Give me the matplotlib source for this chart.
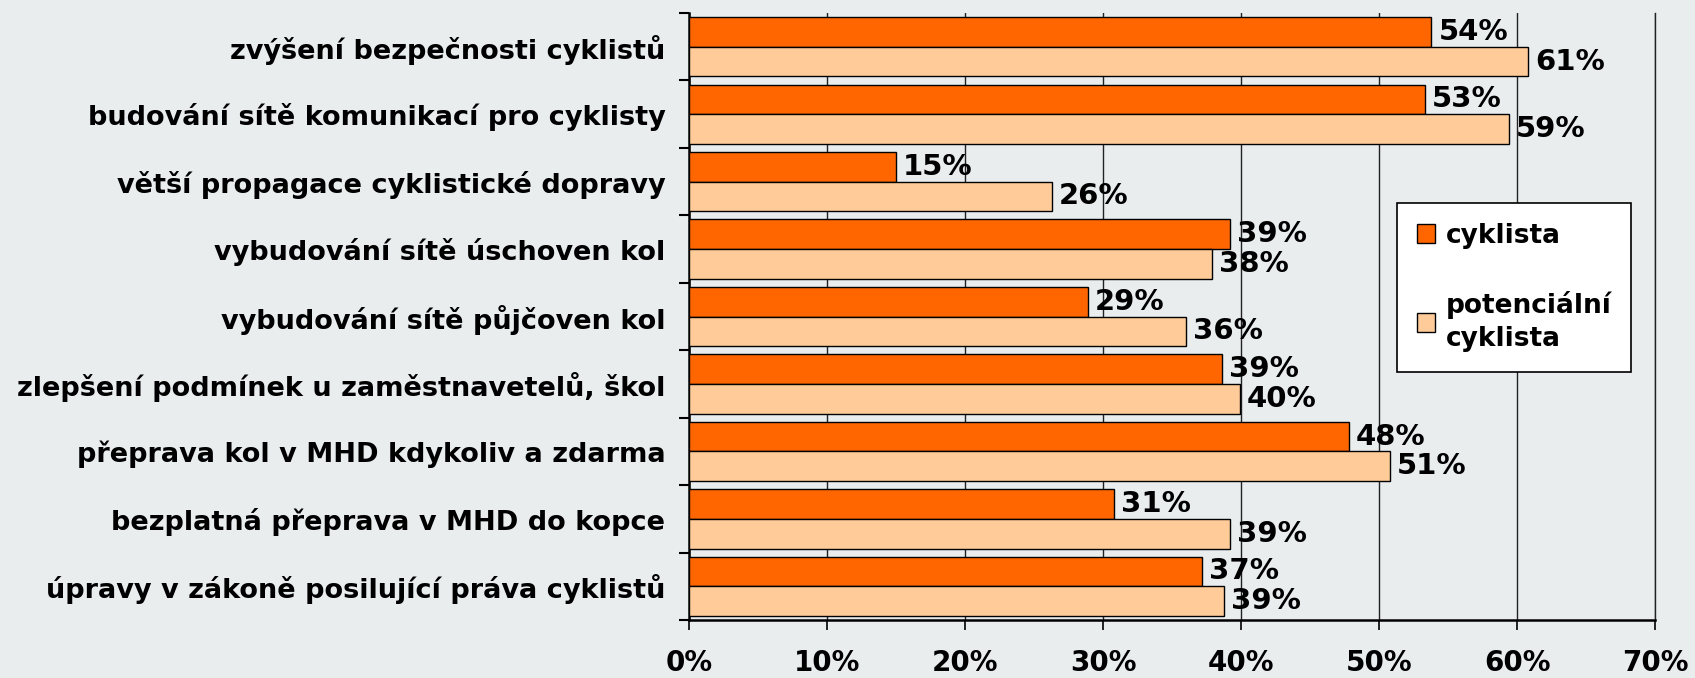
import numpy as np
import matplotlib.pyplot as plt
from matplotlib.ticker import FuncFormatter, FixedLocator

categories = [
    "zvýšení bezpečnosti cyklistů",
    "budování sítě komunikací pro cyklisty",
    "větší propagace cyklistické dopravy",
    "vybudování sítě úschoven kol",
    "vybudování sítě půjčoven kol",
    "zlepšení podmínek u zaměstnavetelů, škol",
    "přeprava kol v MHD kdykoliv a zdarma",
    "bezplatná přeprava v MHD do kopce",
    "úpravy v zákoně posilující práva cyklistů",
]
cyklista = [53.8, 53.3, 15.0, 39.2, 28.9, 38.6, 47.8, 30.8, 37.2]
potencialni = [60.8, 59.4, 26.3, 37.9, 36.0, 39.9, 50.8, 39.2, 38.8]
series_names = ["cyklista", "potenciální\ncyklista"]

bg = "#E9EDEE"
dark = "#FF6600"
light = "#FFCC99"

plt.rcParams["font.family"] = ["DejaVu Sans"]
plt.rcParams["font.weight"] = "bold"

fig = plt.figure(figsize=(16.95, 6.78), dpi=100, facecolor=bg)
ax = fig.add_axes([0.4065, 0.0855, 0.9764 - 0.4065, 0.9808 - 0.0855])
ax.set_facecolor(bg)

n = len(categories)
y = np.arange(n)
h = 0.44
b1 = ax.barh(y - h / 2, cyklista, height=h, color=dark, edgecolor="black",
             linewidth=1, label=series_names[0], zorder=3)
b2 = ax.barh(y + h / 2, potencialni, height=h, color=light, edgecolor="black",
             linewidth=1, label=series_names[1], zorder=3)

# value labels to the right of every bar
for bars, vals in ((b1, cyklista), (b2, potencialni)):
    for rect, v in zip(bars, vals):
        ax.annotate(f"{round(v)}%", (v, rect.get_y() + rect.get_height() / 2),
                    xytext=(5, 0), textcoords="offset points",
                    ha="left", va="center", fontsize=21, fontweight="bold",
                    zorder=4)

ax.set_xlim(0, 70)
ax.set_ylim(n - 0.5, -0.5)
ax.set_xticks(np.arange(0, 71, 10))
ax.xaxis.set_major_formatter(FuncFormatter(lambda v, p: f"{int(v)}%"))
ax.set_yticks(y)
ax.set_yticklabels(categories, fontsize=19.5, fontweight="bold")
ax.yaxis.set_minor_locator(FixedLocator(np.arange(-0.5, n, 1)))
ax.tick_params(axis="y", which="major", length=0, pad=17)
ax.tick_params(axis="y", which="minor", length=7, width=1.5, direction="out")
ax.tick_params(axis="x", length=7, width=1.2, direction="out", pad=14,
               labelsize=20)
for lab in ax.get_xticklabels():
    lab.set_fontweight("bold")

ax.grid(axis="x", color="#222222", linewidth=1, zorder=0)
ax.spines["top"].set_visible(False)
ax.spines["right"].set_color("#222222")
ax.spines["right"].set_linewidth(1)
ax.spines["left"].set_linewidth(1.8)
ax.spines["bottom"].set_linewidth(1.8)

leg = ax.legend(loc="upper left", bbox_to_anchor=(1397 / 1695, 1 - 203 / 678),
                bbox_transform=fig.transFigure, fontsize=19, frameon=True,
                fancybox=False, edgecolor="black", facecolor="white",
                framealpha=1, labelspacing=1.6, handlelength=0.7,
                handleheight=0.7, handletextpad=0.4, borderpad=0.75,
                borderaxespad=0)
leg.get_frame().set_linewidth(1.2)
for t in leg.get_texts():
    t.set_fontweight("bold")
    t.set_linespacing(1.35)

fig.savefig("out.png", dpi=100, facecolor=bg)
